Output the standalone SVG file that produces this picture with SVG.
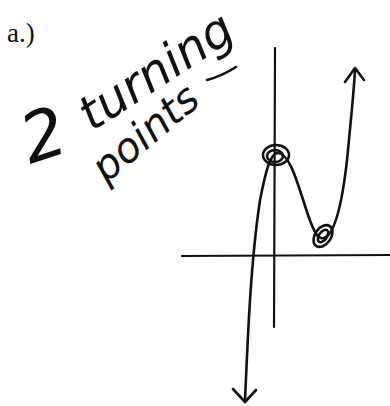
<svg xmlns="http://www.w3.org/2000/svg" width="390" height="406" viewBox="0 0 390 406">
<style>
.ink{fill:none;stroke:#111;stroke-width:2.6;stroke-linecap:round;stroke-linejoin:round}
.ax{fill:none;stroke:#111;stroke-width:2.2;stroke-linecap:round}
.hand{font-family:"DejaVu Sans",sans-serif;font-style:italic;fill:#111;font-weight:200}
</style>
<rect width="390" height="406" fill="#fff"/>
<text x="7" y="42" font-family="Liberation Serif,serif" font-size="27" fill="#111">a.)</text>
<g id="label">
<text class="hand" font-size="68" transform="translate(30,164) rotate(-18)">2</text>
<text class="hand" font-size="48" transform="translate(92,132) rotate(-33)">turning</text>
<text class="hand" font-size="41" transform="translate(106,184) rotate(-40)">points</text>
<path class="ink" d="M207,80 Q222,76 236,67" stroke-width="2"/>
</g>
<g id="axes">
<line class="ax" x1="275" y1="48" x2="274" y2="327"/>
<line class="ax" x1="182" y1="256" x2="390" y2="255"/>
</g>
<g id="curve">
<path class="ink" d="M245,401 C248,330 251,260 260,200 C266,170 270,155 277,153 C290,152 298,185 308,215 C314,232 318,240 324,238 C335,234 342,205 347,160 C351,120 354,90 355,70"/>
<path class="ink" d="M345,82 L355,68 L364,80"/>
<path class="ink" d="M233,389 L245,402 L256,390"/>
</g>
<g id="circles">
<ellipse class="ink" cx="276" cy="155" rx="13" ry="10" stroke-width="2.2"/>
<ellipse class="ink" cx="275" cy="156" rx="8" ry="6" stroke-width="2.2"/>
<ellipse class="ink" cx="323" cy="236" rx="8" ry="12" transform="rotate(35 323 236)" stroke-width="2.2"/>
<ellipse class="ink" cx="323" cy="236" rx="4" ry="7" transform="rotate(35 323 236)" stroke-width="2"/>
</g>
</svg>
